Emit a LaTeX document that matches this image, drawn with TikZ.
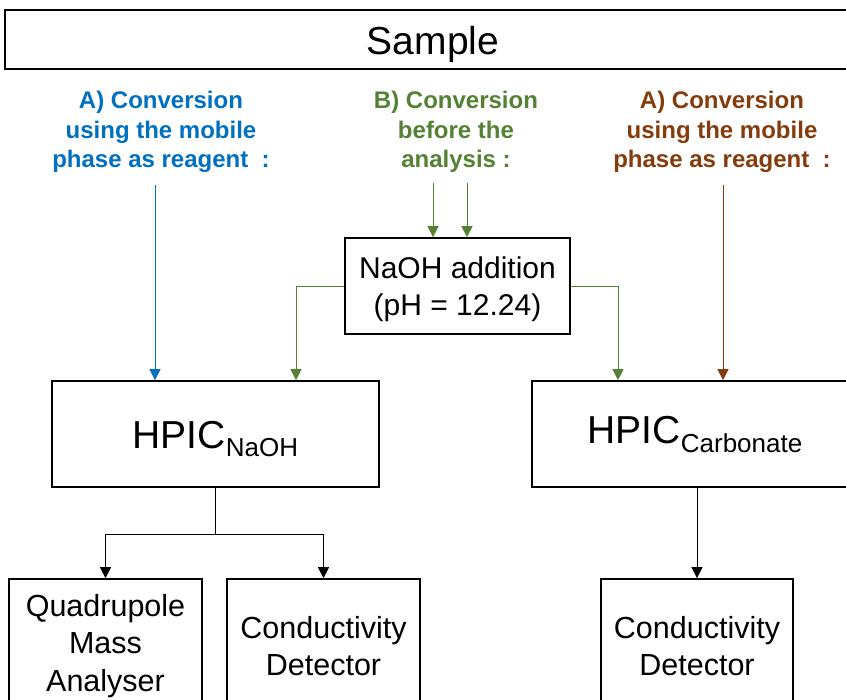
\documentclass[tikz,border=0pt]{standalone}
\usepackage{fontspec}
\setmainfont{Liberation Sans}
\usetikzlibrary{arrows.meta}
\definecolor{cblue}{HTML}{0070C0}
\definecolor{cgreen}{HTML}{548235}
\definecolor{cbrown}{HTML}{843C0C}
\begin{document}
\begin{tikzpicture}[x=1pt,y=-1pt,
  box/.style={draw=black, line width=1.7pt, inner sep=0pt},
  txt/.style={align=center, inner sep=0pt},
  lbl/.style={align=center, inner sep=0pt, font=\fontsize{24}{29.5}\selectfont\bfseries},
  conn/.style={line width=1pt, -{Triangle[width=11pt,length=11pt]}},
  plain/.style={line width=1pt}
]
\useasboundingbox (0,0) rectangle (846,699);
\clip (0,0) rectangle (846,699);
\fill[white] (0,0) rectangle (846,699);

% boxes
\node[box, minimum width=856pt, minimum height=59pt] (sample) at (433,39.5) {};
\node[box, minimum width=225pt, minimum height=96pt] (naoh) at (457.5,286) {};
\node[box, minimum width=327pt, minimum height=106pt] (hpicn) at (215.5,434) {};
\node[box, minimum width=326pt, minimum height=106pt] (hpicc) at (695,434) {};
\node[box, minimum width=193pt, minimum height=130pt] (quad) at (105.5,644) {};
\node[box, minimum width=193pt, minimum height=130pt] (cd1) at (323.5,644) {};
\node[box, minimum width=192pt, minimum height=130pt] (cd2) at (697,644) {};

% box texts
\node[txt, font=\fontsize{39}{44}\selectfont, text depth=0pt] (sampletxt) at ([yshift=-1pt]sample.center) {Sample};
\node[txt, font=\fontsize{30}{37}\selectfont] (naohtxt) at ([yshift=-3pt]naoh.center) {NaOH addition\\(pH = 12.24)};
\node[txt, font=\fontsize{39}{44}\selectfont] (hpicntxt) at ([yshift=-5pt]hpicn.center) {HPIC\raisebox{-8pt}{\fontsize{26}{30}\selectfont NaOH}};
\node[txt, font=\fontsize{39}{44}\selectfont] (hpicctxt) at ([yshift=-1pt]hpicc.center) {HPIC\raisebox{-9pt}{\fontsize{26}{30}\selectfont Carbonate}};
\node[txt, font=\fontsize{30.5}{37.5}\selectfont] (quadtxt) at ([yshift=-2pt]quad.center) {Quadrupole\\Mass\\Analyser};
\node[txt, font=\fontsize{30.5}{37.5}\selectfont] (cd1txt) at ([yshift=-2pt]cd1.center) {Conductivity\\Detector};
\node[txt, font=\fontsize{30.5}{37.5}\selectfont] (cd2txt) at ([yshift=-2pt]cd2.center) {Conductivity\\Detector};

% labels
\node[lbl, text=cblue] (la) at (161,132) {A) Conversion\\using the mobile\\phase as reagent\ \ :};
\node[lbl, text=cgreen] (lb) at (456,132) {B) Conversion\\before the\\analysis :};
\node[lbl, text=cbrown] (lc) at (722,132) {A) Conversion\\using the mobile\\phase as reagent\ \ :};

% free ends
\coordinate (sa) at (155,185);
\coordinate (sb1) at (433,183);
\coordinate (sb2) at (467,183);
\coordinate (sc) at (723,185);
\coordinate (split) at (215.5,534);

% connectors
\draw[conn, cblue] (sa) -- (sa |- hpicn.north);
\draw[conn, cgreen] (sb1) -- (sb1 |- naoh.north);
\draw[conn, cgreen] (sb2) -- (sb2 |- naoh.north);
\draw[conn, cbrown] (sc) -- (sc |- hpicc.north);
\draw[conn, cgreen] (naoh.west) -| (296,0 |- hpicn.north);
\draw[conn, cgreen] (naoh.east) -| (618,0 |- hpicc.north);
\draw[plain] (hpicn.south) -- (split);
\draw[conn] (split) -| (quad.north);
\draw[conn] (split) -| (cd1.north);
\draw[conn] (cd2.north |- hpicc.south) -- (cd2.north);
\end{tikzpicture}
\end{document}
